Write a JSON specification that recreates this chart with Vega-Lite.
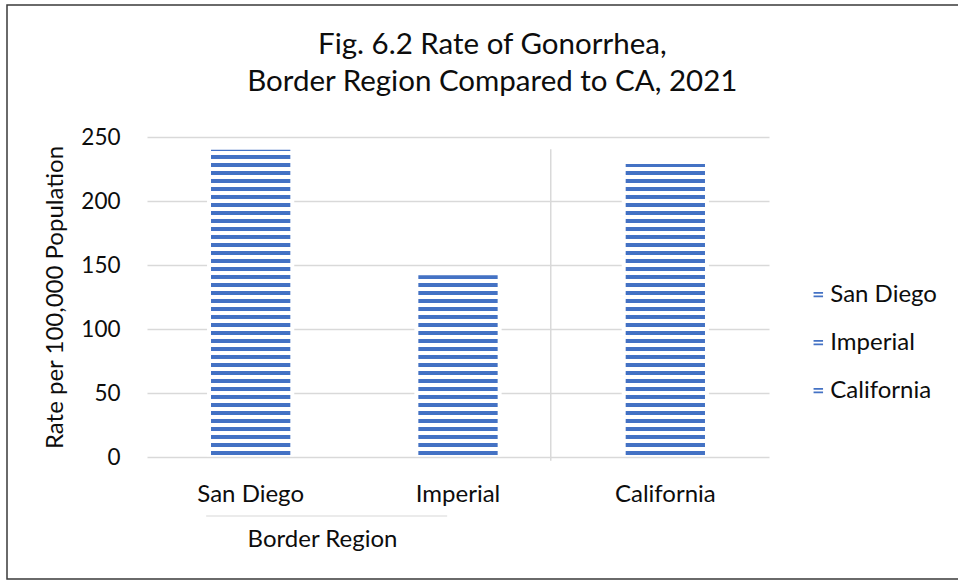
{
  "$schema": "https://vega.github.io/schema/vega-lite/v6.json",
  "width": 953,
  "height": 574,
  "autosize": {"type": "none"},
  "padding": {"left": 7, "top": 5, "right": 0, "bottom": 2},
  "background": "white",
  "config": {
    "font": "Lato",
    "view": {"stroke": "#3a3a3a", "strokeWidth": 1.5},
    "axis": {"labelFont": "Lato", "titleFont": "Lato", "labelColor": "#0d0d0d", "titleColor": "#0d0d0d", "titleFontWeight": "normal"}
  },
  "title": {
    "text": ["Fig. 6.2 Rate of Gonorrhea,", "Border Region Compared to CA, 2021"],
    "font": "Lato",
    "fontSize": 29.5,
    "fontWeight": "normal",
    "color": "#0d0d0d",
    "anchor": "middle",
    "frame": "group",
    "baseline": "alphabetic",
    "lineHeight": 37.7,
    "offset": -115.7,
    "dx": 8.8
  },
  "data": {
    "values": [
      {"region": "San Diego", "rate": 240},
      {"region": "Imperial", "rate": 142},
      {"region": "California", "rate": 229}
    ]
  },
  "layer": [
    {
      "mark": {"type": "bar", "color": "white", "width": {"band": 1.1}},
      "encoding": {
        "x": {
          "field": "region",
          "type": "nominal",
          "sort": null,
          "scale": {"domain": ["San Diego", "Imperial", "California"], "range": [140, 762], "paddingInner": 0.6175, "paddingOuter": 0.30875},
          "axis": {
            "orient": "bottom",
            "offset": -122,
            "domain": false,
            "ticks": false,
            "tickSize": 0,
            "grid": false,
            "labelAngle": 0,
            "labelFontSize": 24,
            "labelPadding": 44,
            "labelBaseline": "alphabetic",
            "title": "Border Region",
            "titleFontSize": 24,
            "titleX": 315,
            "titleY": 89,
            "titleAlign": "center",
            "titleBaseline": "alphabetic"
          }
        },
        "y": {
          "field": "rate",
          "type": "quantitative",
          "scale": {"domain": [0, 250], "range": [452, 132], "nice": false},
          "axis": {
            "orient": "left",
            "offset": -140,
            "values": [0, 50, 100, 150, 200, 250],
            "domain": false,
            "ticks": false,
            "tickSize": 0,
            "grid": true,
            "gridColor": "#d9d9d9",
            "gridWidth": 1.5,
            "labelFontSize": 22.5,
            "labelPadding": 27,
            "title": "Rate per 100,000 Population",
            "titleFontSize": 24,
            "titleX": -92,
            "titleY": 292,
            "titleAngle": -90,
            "titleAlign": "center",
            "titleBaseline": "middle"
          }
        },
        "y2": {"datum": 0.5}
      }
    },
    {
      "transform": [{"filter": "datum.region === 'San Diego'"}],
      "mark": {"type": "rule", "strokeWidth": 79.3, "strokeDash": [4, 4], "strokeDashOffset": 2.8, "strokeCap": "butt"},
      "encoding": {
        "x": {"field": "region", "type": "nominal", "sort": null},
        "y": {"field": "rate", "type": "quantitative"},
        "y2": {"datum": 0},
        "color": {
          "field": "region",
          "type": "nominal",
          "sort": null,
          "scale": {"domain": ["San Diego", "Imperial", "California"], "range": ["#4472C4", "#4472C4", "#4472C4"]},
          "legend": {
            "orient": "none",
            "legendX": 799.3,
            "legendY": 277.7,
            "title": null,
            "padding": 0,
            "symbolType": "M-1,-0.55H1V-0.18H-1Z M-1,0.18H1V0.55H-1Z",
            "symbolSize": 90,
            "symbolFillColor": "#4472C4",
            "symbolStrokeWidth": 0,
            "labelFont": "Lato",
            "labelFontSize": 24,
            "labelColor": "#0d0d0d",
            "labelOffset": 0,
            "rowPadding": 24
          }
        }
      }
    },
    {
      "transform": [{"filter": "datum.region === 'Imperial'"}],
      "mark": {"type": "rule", "color": "#4472C4", "strokeWidth": 79.3, "strokeDash": [4, 4], "strokeDashOffset": 0.24, "strokeCap": "butt"},
      "encoding": {
        "x": {"field": "region", "type": "nominal", "sort": null},
        "y": {"field": "rate", "type": "quantitative"},
        "y2": {"datum": 0}
      }
    },
    {
      "transform": [{"filter": "datum.region === 'California'"}],
      "mark": {"type": "rule", "color": "#4472C4", "strokeWidth": 79.3, "strokeDash": [4, 4], "strokeDashOffset": 0.88, "strokeCap": "butt"},
      "encoding": {
        "x": {"field": "region", "type": "nominal", "sort": null},
        "y": {"field": "rate", "type": "quantitative"},
        "y2": {"datum": 0}
      }
    },
    {
      "data": {"values": [{"divider": "California"}]},
      "mark": {"type": "rule", "color": "#d9d9d9", "strokeWidth": 1.5},
      "encoding": {
        "x": {"field": "divider", "type": "nominal", "bandPosition": -0.945},
        "y": {"datum": 240.4, "type": "quantitative"},
        "y2": {"datum": -2.9}
      }
    },
    {
      "data": {"values": [{"group": "San Diego"}]},
      "mark": {"type": "tick", "orient": "horizontal", "color": "#d9d9d9", "size": 241, "thickness": 1.5, "xOffset": 76},
      "encoding": {
        "x": {"field": "group", "type": "nominal"},
        "y": {"datum": -46.1, "type": "quantitative"}
      }
    }
  ]
}
